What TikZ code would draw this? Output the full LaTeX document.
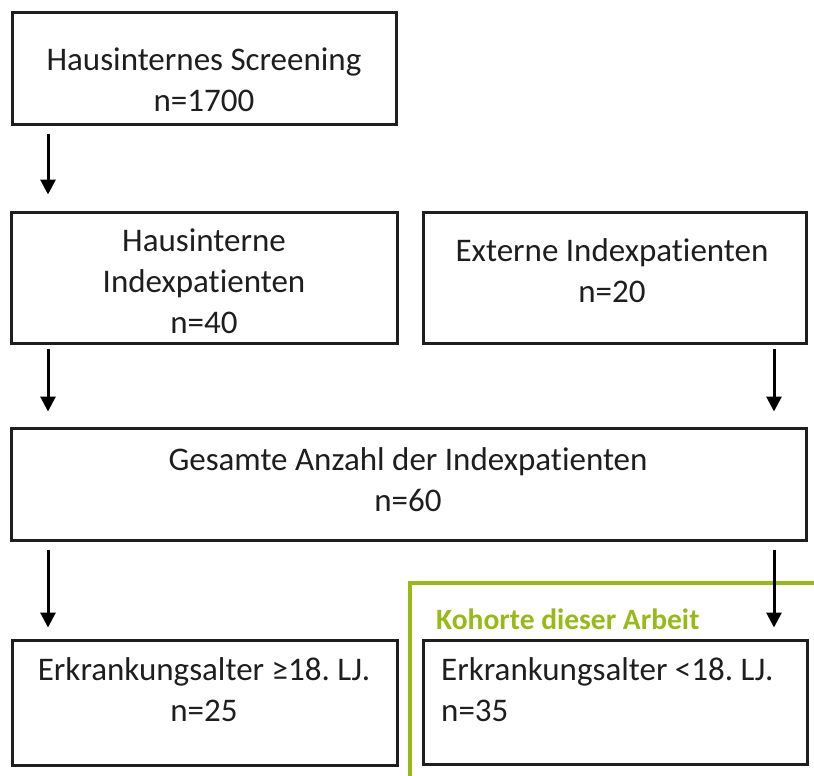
\documentclass[tikz,border=0pt]{standalone}
\usepackage{fontspec}
\setmainfont{Carlito}[Ligatures=NoCommon]
\usetikzlibrary{arrows.meta}
\definecolor{boxline}{RGB}{30,30,30}
\definecolor{cohort}{RGB}{152,186,22}
\begin{document}
\frenchspacing
\begin{tikzpicture}[x=1pt,y=-1pt,
  box/.style={draw=boxline, line width=3pt, rectangle, inner sep=0pt},
  txt/.style={font=\fontsize{33}{41}\selectfont, text=boxline, inner sep=0pt, align=center},
  flow/.style={draw=black, line width=3pt, -{Triangle[length=15pt,width=15pt]}}]
  \useasboundingbox (0,0) rectangle (814,776);

  % frame around the cohort of this work
  \coordinate (gb) at (410,780);
  \coordinate (gc) at (410,583);
  \coordinate (gr) at (818,583);
  \draw[cohort, line width=4pt] (gb) -- (gc) -- (gr);
  \node[anchor=base west, inner sep=0pt, text=cohort, font=\bfseries\fontsize{29.5}{34}\selectfont] (lab) at (436,629) {Kohorte dieser Arbeit};

  % boxes
  \node[box, minimum width=384pt, minimum height=111pt] (b1) at (204.5,68.5) {};
  \node[box, minimum width=386pt, minimum height=131pt] (b2) at (204,277.5) {};
  \node[box, minimum width=383pt, minimum height=131pt] (b3) at (614.5,277.5) {};
  \node[box, minimum width=795pt, minimum height=112pt] (b4) at (408.5,484) {};
  \node[box, minimum width=385pt, minimum height=125pt] (b5) at (204.5,702.5) {};
  \node[box, minimum width=384pt, minimum height=124pt] (b6) at (615,702) {};

  % texts
  \node[txt] (t1) at (204,80) {Hausinternes Screening\\n=1700};
  \node[txt] (t2) at (204,281) {Hausinterne\\Indexpatienten\\n=40};
  \node[txt] (t3) at (612,271) {Externe Indexpatienten\\n=20};
  \node[txt] (t4) at (408,480) {Gesamte Anzahl der Indexpatienten\\n=60};
  \node[txt] (t5) at (204,690) {Erkrankungsalter ≥18. LJ.\\n=25};
  \node[txt, align=left, anchor=west] (t6) at (441,690) {Erkrankungsalter <18. LJ.\\n=35};

  % connectors
  \draw[flow] ([xshift=-156.5pt,yshift=-8pt]b1.south) -- ([xshift=-156pt,yshift=16pt]b2.north);
  \draw[flow] ([xshift=-156pt,yshift=-4pt]b2.south) -- ([xshift=-360.5pt,yshift=15pt]b4.north);
  \draw[flow] ([xshift=159.5pt,yshift=-4pt]b3.south) -- ([xshift=365.5pt,yshift=15pt]b4.north);
  \draw[flow] ([xshift=-360.5pt,yshift=-8pt]b4.south) -- ([xshift=-156.5pt,yshift=11pt]b5.north);
  \draw[flow] ([xshift=365.5pt,yshift=-8pt]b4.south) -- ([xshift=159pt,yshift=11pt]b6.north);
\end{tikzpicture}
\end{document}
